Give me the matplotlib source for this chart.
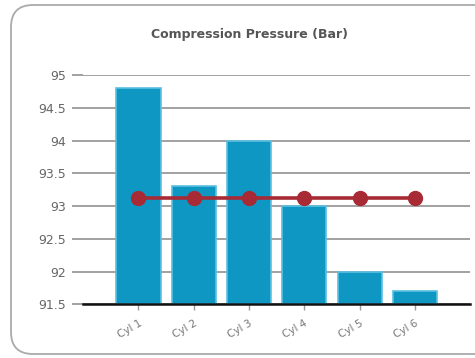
import matplotlib.pyplot as plt
from matplotlib.patches import FancyBboxPatch

categories = ["Cyl 1", "Cyl 2", "Cyl 3", "Cyl 4", "Cyl 5", "Cyl 6"]
pressure = [94.8, 93.3, 94.0, 93.0, 92.0, 91.7]
average = [93.13, 93.13, 93.13, 93.13, 93.13, 93.13]
y_ticks = [91.5, 92, 92.5, 93, 93.5, 94, 94.5, 95]
y_labels = ["91.5", "92", "92.5", "93", "93.5", "94", "94.5", "95"]

fig = plt.figure(figsize=(4.75, 3.58), dpi=100)
fig.patch.set_facecolor("white")

# background layer carrying the rounded outer frame
bg = fig.add_axes([0, 0, 1, 1], zorder=-10)
bg.set_axis_off()
bg.set_xlim(0, 475)
bg.set_ylim(0, 358)
bg.add_patch(FancyBboxPatch((11, 4), 500, 349,
                            boxstyle="round,pad=0,rounding_size=22",
                            facecolor="white", edgecolor="#aaaaaa", linewidth=1.3))

ax = fig.add_axes([0.175, 0.15, 0.815, 0.64])
ax.set_facecolor("none")

x = list(range(1, len(categories) + 1))
ax.bar(x, [p - 91.5 for p in pressure], bottom=91.5, width=0.8, color="#0f97c4",
       edgecolor="#5cc0e2", linewidth=1.2, zorder=2)
ax.plot(x, average, color="#a82a35", linewidth=2.6, marker="o", markersize=10,
        markerfacecolor="#a82a35", markeredgecolor="#a82a35", zorder=3)

ax.set_xlim(0, 7)
ax.set_ylim(91.5, 95)
ax.set_yticks(y_ticks)
ax.set_yticklabels(y_labels)
ax.set_xticks(x)
ax.set_xticklabels(categories)

ax.yaxis.grid(True, color="#9a9a9a", linewidth=1.3, zorder=1)
ax.set_axisbelow(True)
for s in ["top", "right", "left"]:
    ax.spines[s].set_visible(False)
ax.spines["bottom"].set_color("#111111")
ax.spines["bottom"].set_linewidth(1.8)
ax.spines["bottom"].set_zorder(4)

ax.tick_params(axis="y", length=8, width=1.3, color="#9a9a9a", labelcolor="#666666",
               labelsize=9, pad=4)
ax.tick_params(axis="x", length=4, width=1, color="#999999", labelcolor="#777777",
               labelsize=7.5, pad=6)
for lbl in ax.get_xticklabels():
    lbl.set_rotation(30)
    lbl.set_rotation_mode("anchor")
    lbl.set_ha("right")
    lbl.set_va("top")

fig.text(0.525, 0.905, "Compression Pressure (Bar)", ha="center", va="center",
         fontsize=9, fontweight="bold", color="#555555")

fig.savefig("out.png", dpi=100)
